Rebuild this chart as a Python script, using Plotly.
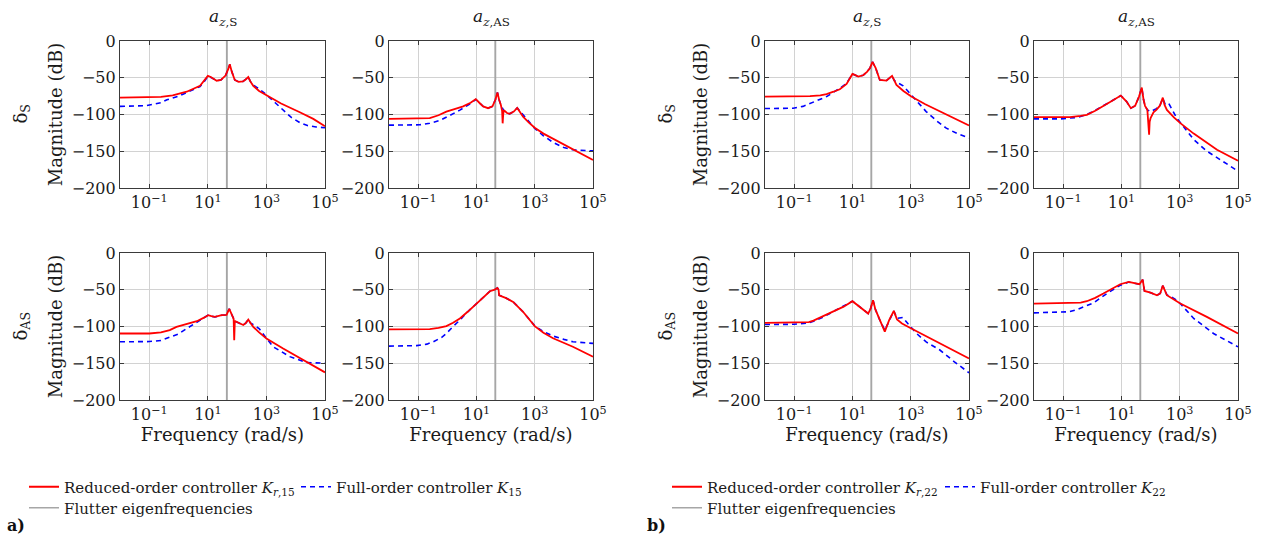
import plotly.graph_objects as go

# ---------------- data (frequency in rad/s, magnitude in dB) ----------------
flutter_freqs = [43.5, 45.5]

# Panel a) row S, column a_z,S
a1_red_w = [0.01, 0.1, 0.25, 0.63, 1.9, 5.4, 7.9, 10, 12.6, 20, 28, 40, 50, 56, 66, 83, 112, 158, 200, 240, 282, 355, 562, 1000, 3162, 13800, 39800, 100000]
a1_red_db = [-77, -77, -76, -74, -69, -61, -53, -47.5, -49, -54, -53, -47, -38, -31.7, -42, -53, -55.5, -55, -52, -49, -55, -61, -68, -74, -85, -97, -106, -116]
a1_blue_w = [0.01, 0.079, 0.25, 0.4, 1, 1.9, 5.4, 7.9, 10, 12.6, 20, 28, 40, 50, 56, 66, 83, 112, 158, 200, 240, 282, 355, 468, 631, 1000, 1995, 3715, 7079, 13800, 25100, 50100, 100000]
a1_blue_db = [-89, -88, -84, -80, -75, -70, -62, -54, -48, -49.5, -54, -53, -47, -38, -32, -42, -53, -55.5, -55, -52, -49, -55, -60, -63, -67, -73, -84, -94, -104, -111, -115, -117, -118]

# Panel a) row S, column a_z,AS
a2_red_w = [0.01, 0.1, 0.25, 0.5, 0.93, 2, 3.5, 6.3, 9.5, 12.6, 17, 25, 35.5, 44.7, 52.5, 60, 69, 76, 79.4, 83, 87, 112, 138, 191, 251, 316, 398, 631, 1000, 1995, 4266, 19950, 100000]
a2_red_db = [-106, -106, -105, -101, -96, -92, -89, -84, -79, -84, -89, -91.4, -89, -80, -70, -80, -87, -95, -112, -100, -94, -98, -99, -96, -91, -97, -103, -111, -118, -126, -133, -147, -162]
a2_blue_w = [0.01, 0.115, 0.25, 0.56, 1.26, 2.7, 6.3, 9.5, 12.6, 17, 25, 35.5, 44.7, 52.5, 60, 69, 87, 112, 138, 191, 251, 316, 398, 501, 708, 1000, 1995, 4266, 10000, 19950, 44700, 100000]
a2_blue_db = [-114.5, -114, -112, -108, -101, -94, -85, -79.5, -84, -89, -91.4, -89, -80, -70, -80, -87, -95, -98, -99, -96, -91, -96, -101, -105, -112, -119, -129, -138, -145, -148, -149, -149.5]

# Panel a) row AS, column a_z,S
a3_red_w = [0.01, 0.1, 0.25, 0.5, 0.85, 2, 4.2, 7.4, 10.2, 13.2, 17.4, 29.5, 43.6, 53.7, 63, 71, 76, 79.4, 83, 87, 126, 162, 200, 240, 282, 355, 562, 1000, 3715, 23400, 100000]
a3_red_db = [-109.5, -109.5, -108, -105, -100.5, -96, -92.8, -88, -84.6, -86, -87, -84.6, -84.2, -76, -84, -87, -90, -118.6, -95, -92.8, -96, -98, -95, -90.5, -95, -100.5, -108, -116.3, -130, -148, -162.4]
a3_blue_w = [0.01, 0.1, 0.25, 0.4, 1, 1.9, 5.4, 7.4, 10.2, 13.2, 17.4, 29.5, 43.6, 53.7, 63, 71, 87, 126, 162, 200, 240, 282, 355, 562, 1000, 1698, 6310, 23400, 100000]
a3_blue_db = [-120.8, -120.5, -119, -116.3, -110, -102.7, -91.4, -88, -84.6, -86, -87, -84.6, -84.2, -76, -84, -87, -93, -96, -98, -95, -90.5, -95, -98, -102.7, -116, -127.6, -141, -149, -150]

# Panel a) row AS, column a_z,AS
a4_red_w = [0.01, 0.1, 0.25, 0.5, 0.93, 1.58, 2.7, 5, 10, 17.8, 29, 42.7, 52.5, 57.5, 60, 100, 182, 398, 1000, 1995, 4266, 20400, 100000]
a4_red_db = [-104, -104, -103.5, -102, -99.5, -95, -89, -80, -68.8, -59, -52, -49.8, -47.5, -50, -57.5, -61, -66.5, -80, -99.5, -108.5, -116, -127.6, -141]
a4_blue_w = [0.01, 0.089, 0.2, 0.33, 0.63, 0.93, 1.58, 2.7, 5, 10, 17.8, 29, 42.7, 52.5, 57.5, 60, 100, 182, 398, 1000, 1995, 4266, 10000, 20400, 100000]
a4_blue_db = [-126.7, -126, -124, -120.8, -115, -109.5, -100, -91.4, -80, -68.8, -59, -52, -49.8, -47.5, -50, -57.5, -61, -66.5, -80, -99, -107, -113, -117.5, -120.8, -123]

# Panel b) row S, column a_z,S
b1_red_w = [0.01, 0.16, 0.35, 0.79, 1.3, 2.24, 3.7, 6.3, 8.3, 10, 12.6, 15.8, 23.4, 31.6, 39.8, 49, 63, 74, 87, 148, 229, 275, 324, 562, 1047, 3162, 10000, 31600, 100000]
b1_red_db = [-75.6, -75.6, -75, -74, -72.4, -69, -65.6, -58.4, -50, -44.8, -46.5, -48.4, -46.6, -42, -37, -28.5, -37, -46, -53, -53.8, -47.5, -54, -59.7, -68, -75.6, -86, -96, -105.5, -115]
b1_blue_w = [0.01, 0.093, 0.2, 0.35, 0.71, 1.3, 2.24, 3.7, 6.3, 8.3, 10, 12.6, 15.8, 23.4, 31.6, 39.8, 49, 63, 74, 87, 148, 229, 275, 355, 550, 794, 1047, 1995, 3388, 7943, 16600, 39800, 100000]
b1_blue_db = [-91.9, -91.5, -89, -85.5, -80, -75.6, -70, -64.3, -57.5, -50, -44.8, -46.5, -48.4, -46.6, -42, -37, -28.5, -37, -46, -53, -53.8, -47.5, -54, -57, -61, -68, -73.3, -85, -96, -109, -118.6, -126, -132]

# Panel b) row S, column a_z,AS
b2_red_w = [0.01, 0.17, 0.4, 0.65, 1.26, 2.4, 5, 9.5, 12, 15, 21, 29.5, 39.8, 50, 57.5, 64.6, 77.6, 85, 89, 93, 100, 126, 158, 209, 263, 302, 363, 631, 1047, 3020, 19050, 100000]
b2_red_db = [-103.6, -103.5, -102, -100.5, -95, -89, -81, -74.2, -78, -82.4, -91.4, -88.2, -76, -63.3, -80, -88.2, -93.7, -110, -127.6, -110, -105, -97, -93.7, -88, -77, -87, -93.7, -104, -111.8, -126, -148, -163]
b2_blue_w = [0.01, 0.079, 0.3, 0.65, 1.26, 2.4, 5, 9.5, 12, 15, 21, 29.5, 39.8, 50, 57.5, 64.6, 77.6, 100, 158, 209, 263, 316, 417, 562, 794, 1585, 3020, 7943, 19050, 50100, 100000]
b2_blue_db = [-106, -106, -104, -100, -94.5, -88, -80, -74.5, -78, -82.4, -91.4, -88.2, -76, -63.3, -80, -88.2, -93.7, -96, -92, -88, -78, -86, -84.6, -95, -105, -120, -134, -149, -159, -169, -177]

# Panel b) row AS, column a_z,S
b3_red_w = [0.01, 0.16, 0.32, 0.46, 1, 2.2, 5, 10, 14.1, 20.4, 34.7, 41.7, 51, 61.7, 87, 129, 182, 263, 339, 501, 1047, 10000, 100000]
b3_red_db = [-95, -95, -94, -92, -86, -80, -73, -65.6, -70, -74.7, -82.4, -76, -64.3, -77, -91.4, -107, -91.4, -78.7, -90.5, -96, -102.7, -123, -143.4]
b3_blue_w = [0.01, 0.1, 0.32, 0.46, 1, 2.2, 5, 10, 14.1, 20.4, 34.7, 41.7, 51, 61.7, 87, 129, 182, 263, 339, 417, 537, 794, 1000, 1585, 3388, 10000, 31600, 100000]
b3_blue_db = [-97.3, -97, -95, -93, -87, -80, -72, -65.6, -70, -74.7, -82.4, -76, -64.3, -77, -91.4, -105, -91.4, -79, -89, -88.5, -87.8, -96, -100.5, -109.5, -121, -132, -148, -163]

# Panel b) row AS, column a_z,AS
b4_red_w = [0.01, 0.17, 0.4, 0.65, 1.26, 2.4, 5, 9.1, 17.8, 29.5, 41.7, 53.7, 61.7, 100, 166, 214, 263, 363, 562, 1047, 8511, 100000]
b4_red_db = [-68.8, -68.5, -67.5, -65.6, -61, -55.2, -48, -42.5, -39.4, -41.6, -42.5, -36.2, -51.6, -54, -57.5, -55, -44.3, -57.5, -62, -68.8, -86.9, -109.5]
b4_blue_w = [0.01, 0.079, 0.16, 0.3, 1.1, 3.2, 9.1, 17.8, 29.5, 41.7, 53.7, 61.7, 100, 166, 214, 263, 363, 468, 708, 1047, 3020, 14450, 100000]
b4_blue_db = [-81.4, -81, -80, -77, -67.9, -55, -43.9, -39.6, -41.6, -42.5, -36.2, -51.6, -54, -57.5, -55, -44.5, -57, -58.8, -63, -68.8, -89, -109.5, -127.6]

x_tickvals = [0.1, 10, 1000, 100000]
x_ticktext = ["10<sup>−1</sup>", "10<sup>1</sup>", "10<sup>3</sup>", "10<sup>5</sup>"]
y_tickvals = [0, -50, -100, -150, -200]
y_ticktext = ["0", "−50", "−100", "−150", "−200"]
col_titles = ["<i>a</i><sub><i>z</i>,S</sub>", "<i>a</i><sub><i>z</i>,AS</sub>"]
row_titles = ["δ<sub>S</sub>", "δ<sub>AS</sub>"]
group_labels = ["<b>a)</b>", "<b>b)</b>"]
red_names = ["Reduced-order controller <i>K</i><sub><i>r</i>,15</sub>", "Reduced-order controller <i>K</i><sub><i>r</i>,22</sub>"]
blue_names = ["Full-order controller <i>K</i><sub>15</sub>", "Full-order controller <i>K</i><sub>22</sub>"]
flutter_name = "Flutter eigenfrequencies"

# ---------------- layout geometry ----------------
W, H = 1281, 534
FONT = "DejaVu Serif"
FS = 16
TXT = "#1a1a1a"
panel_x_px = [(120, 325), (389, 593), (765, 969), (1034, 1238)]
panel_y_px = [(41, 188), (253, 400)]

panels = [
    (0, 0, 0, a1_red_w, a1_red_db, a1_blue_w, a1_blue_db),
    (0, 0, 1, a2_red_w, a2_red_db, a2_blue_w, a2_blue_db),
    (0, 1, 0, a3_red_w, a3_red_db, a3_blue_w, a3_blue_db),
    (0, 1, 1, a4_red_w, a4_red_db, a4_blue_w, a4_blue_db),
    (1, 0, 0, b1_red_w, b1_red_db, b1_blue_w, b1_blue_db),
    (1, 0, 1, b2_red_w, b2_red_db, b2_blue_w, b2_blue_db),
    (1, 1, 0, b3_red_w, b3_red_db, b3_blue_w, b3_blue_db),
    (1, 1, 1, b4_red_w, b4_red_db, b4_blue_w, b4_blue_db),
]

fig = go.Figure()
layout = {}
annotations = []
legend_ids = [("legend", "legend2"), ("legend3", "legend4")]

for i, (g, r, c, rw, rdb, bw, bdb) in enumerate(panels):
    n = i + 1
    xa = "x" if n == 1 else f"x{n}"
    ya = "y" if n == 1 else f"y{n}"
    xkey = "xaxis" if n == 1 else f"xaxis{n}"
    ykey = "yaxis" if n == 1 else f"yaxis{n}"
    x0, x1 = panel_x_px[g * 2 + c]
    y0, y1 = panel_y_px[r]
    first = (r == 0 and c == 0)
    leg_main, leg_fl = legend_ids[g]

    for f_i, f in enumerate(flutter_freqs):
        fig.add_trace(go.Scatter(
            x=[f, f], y=[0, -200], xaxis=xa, yaxis=ya, mode="lines",
            line=dict(color="#a6a6a6", width=1.3),
            name=flutter_name, legend=leg_fl,
            showlegend=(first and f_i == 0), legendrank=3, hoverinfo="skip"))
    fig.add_trace(go.Scatter(
        x=bw, y=bdb, xaxis=xa, yaxis=ya, mode="lines",
        line=dict(color="#0000ff", width=1.6, dash="5px,4px"),
        name=blue_names[g], legend=leg_main, showlegend=first, legendrank=2))
    fig.add_trace(go.Scatter(
        x=rw, y=rdb, xaxis=xa, yaxis=ya, mode="lines",
        line=dict(color="#ff0000", width=1.8),
        name=red_names[g], legend=leg_main, showlegend=first, legendrank=1))

    bottom = (r == 1)
    layout[xkey] = dict(
        type="log", range=[-2, 5], domain=[x0 / W, x1 / W], anchor=ya,
        tickvals=x_tickvals, ticktext=x_ticktext, automargin=False,
        showgrid=True, gridcolor="#d2d2d2", gridwidth=1,
        showline=True, linecolor="#3a3a3a", linewidth=1.2, mirror="ticks",
        ticks="inside", ticklen=4, tickcolor="#3a3a3a",
        tickfont=dict(family=FONT, size=FS, color=TXT),
        zeroline=False,
        title=dict(text="Frequency (rad/s)" if bottom else "",
                   font=dict(family=FONT, size=18, color=TXT), standoff=5),
    )
    layout[ykey] = dict(
        range=[-200, 0], domain=[1 - y1 / H, 1 - y0 / H], anchor=xa,
        tickvals=y_tickvals, ticktext=y_ticktext, automargin=False,
        showgrid=True, gridcolor="#d2d2d2", gridwidth=1,
        showline=True, linecolor="#3a3a3a", linewidth=1.2, mirror="ticks",
        ticks="inside", ticklen=4, tickcolor="#3a3a3a",
        tickfont=dict(family=FONT, size=FS, color=TXT),
        zeroline=False,
        title=dict(text="Magnitude (dB)" if c == 0 else "",
                   font=dict(family=FONT, size=18, color=TXT), standoff=4),
    )
    if r == 0:
        annotations.append(dict(
            text=col_titles[c], x=(x0 + x1) / 2 / W, y=1 - 18 / H,
            xref="paper", yref="paper", showarrow=False,
            font=dict(family=FONT, size=17, color=TXT),
            xanchor="center", yanchor="middle"))
    if c == 0:
        annotations.append(dict(
            text=row_titles[r], x=(x0 - 99) / W, y=1 - (y0 + y1) / 2 / H,
            xref="paper", yref="paper", showarrow=False, textangle=-90,
            font=dict(family=FONT, size=18, color=TXT),
            xanchor="center", yanchor="middle"))

group_left_px = [5, 645]
for g in range(2):
    annotations.append(dict(
        text=group_labels[g], x=group_left_px[g] / W, y=1 - 525 / H,
        xref="paper", yref="paper", showarrow=False,
        font=dict(family=FONT, size=16, color="#111"),
        xanchor="left", yanchor="middle"))

legend_common = dict(
    orientation="h", xanchor="left", yanchor="middle",
    font=dict(family=FONT, size=15, color=TXT),
    bgcolor="rgba(0,0,0,0)", borderwidth=0, itemwidth=30,
    tracegroupgap=0, traceorder="normal",
)
leg_x_px = [24, 667]
layout["legend"] = dict(legend_common, x=leg_x_px[0] / W, y=1 - 487 / H, entrywidth=227, entrywidthmode="pixels")
layout["legend2"] = dict(legend_common, x=leg_x_px[0] / W, y=1 - 508 / H)
layout["legend3"] = dict(legend_common, x=leg_x_px[1] / W, y=1 - 487 / H, entrywidth=228, entrywidthmode="pixels")
layout["legend4"] = dict(legend_common, x=leg_x_px[1] / W, y=1 - 508 / H)

fig.update_layout(
    width=W, height=H, margin=dict(l=0, r=0, t=0, b=0, autoexpand=False),
    paper_bgcolor="white", plot_bgcolor="white",
    annotations=annotations, showlegend=True,
    font=dict(family=FONT, size=FS, color=TXT),
    **layout,
)
fig.write_html("out.html")
